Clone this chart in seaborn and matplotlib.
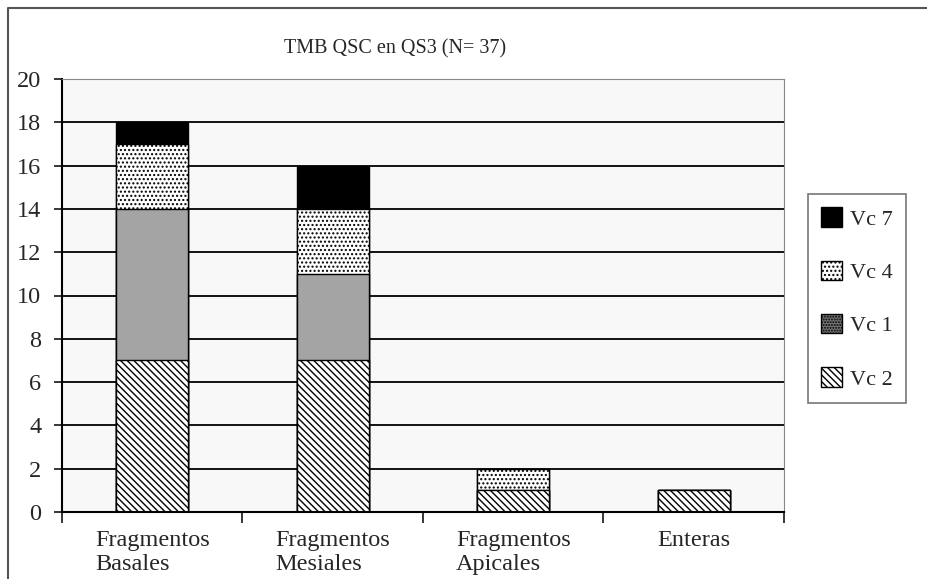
import matplotlib
matplotlib.use("Agg")
import matplotlib.pyplot as plt
import seaborn as sns
import numpy as np
from matplotlib.patches import Patch
from matplotlib.lines import Line2D

# datos
categorias = ["Fragmentos\nBasales", "Fragmentos\nMesiales", "Fragmentos\nApicales", "Enteras"]
vc2 = [7, 7, 1, 1]
vc1 = [7, 4, 0, 0]
vc4 = [3, 3, 1, 0]
vc7 = [1, 2, 0, 0]
titulo = "TMB QSC en QS3 (N= 37)"

sns.set_style("white")
plt.rcParams['font.family'] = ['Liberation Serif', 'DejaVu Serif']
plt.rcParams['hatch.linewidth'] = 1.0

fig = plt.figure(figsize=(9.28, 5.79), dpi=100)
ax = fig.add_axes([62/928, 1-512/579, (784-62)/928, (512-79)/579])
ax.set_facecolor('#f8f8f8')

# capas acumuladas, de arriba hacia abajo
c1 = np.array(vc2)
c2 = c1 + np.array(vc1)
c3 = c2 + np.array(vc4)
c4 = c3 + np.array(vc7)

rayas = '\\\\\\\\\\'
puntos = '....'
capas = [
    (c4, 'black', None),
    (c3, 'white', puntos),
    (c2, '#a4a4a4', None),
    (c1, 'white', rayas),
]
for vals, col, hat in capas:
    sns.barplot(x=categorias, y=vals, color=col, saturation=1, hatch=hat,
                edgecolor='black', linewidth=1.0, width=0.4, ax=ax)

ax.set_axisbelow(True)
ax.set_ylim(0, 20)
ax.set_xlim(-0.5, 3.5)
ax.set_yticks(np.arange(0, 21, 2))
ax.yaxis.grid(True, color='black', linewidth=1.3)
ax.tick_params(axis='y', direction='out', length=6, width=1.3, labelsize=17.5, pad=9, left=True)
ax.set_xticks(range(4))
ax.set_xticklabels(categorias, fontsize=17.5, multialignment='left', linespacing=1.2)
ax.tick_params(axis='x', length=0, pad=13)
ax.set_xticks([-0.5, 0.5, 1.5, 2.5, 3.5], minor=True)
ax.tick_params(axis='x', which='minor', direction='out', length=8, width=1.3, bottom=True)
ax.set_xlabel('')
ax.set_ylabel('')

ax.spines['left'].set_color('black')
ax.spines['left'].set_linewidth(1.5)
ax.spines['bottom'].set_color('black')
ax.spines['bottom'].set_linewidth(1.5)
ax.spines['top'].set_color('#888888')
ax.spines['right'].set_color('#888888')

fig.text(395/928, 1-49/579, titulo, ha='center', va='center', fontsize=14.5)

handles = [
    Patch(facecolor='black', edgecolor='black', label='Vc 7'),
    Patch(facecolor='white', edgecolor='black', hatch=puntos, label='Vc 4'),
    Patch(facecolor='#777777', edgecolor='black', hatch='......', label='Vc 1'),
    Patch(facecolor='white', edgecolor='black', hatch=rayas, label='Vc 2'),
]
leg = fig.legend(handles=handles, loc='upper left', bbox_to_anchor=(808/928, 1-194/579),
                 fontsize=16, frameon=True, fancybox=False, edgecolor='#555555',
                 labelspacing=1.4, handlelength=0.95, handleheight=0.95, handletextpad=0.35,
                 borderpad=0.6, borderaxespad=0)
leg.get_frame().set_linewidth(1.2)

# marco exterior
fig.add_artist(Line2D([8/928, 8/928, 1.0], [0.0, 1-8/579, 1-8/579],
                      transform=fig.transFigure, color='#555555', linewidth=1.5))

fig.savefig('out.png', dpi=100)
